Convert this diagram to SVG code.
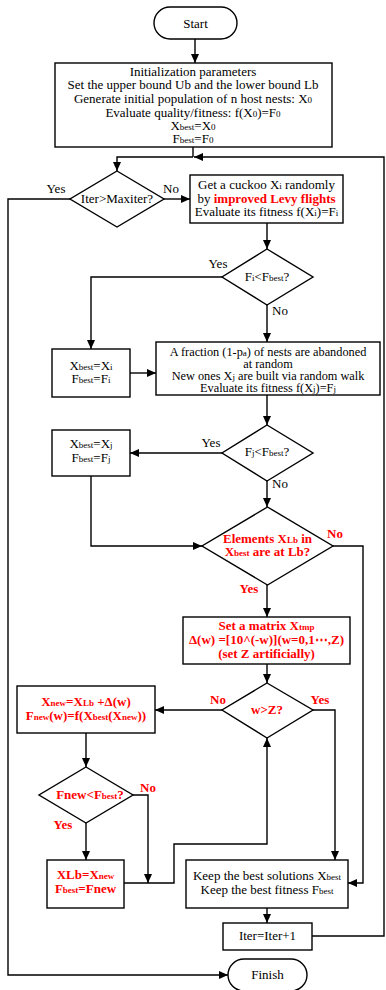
<svg xmlns="http://www.w3.org/2000/svg" width="386" height="990" viewBox="0 0 386 990">
<defs>
<marker id="ah" markerWidth="9" markerHeight="8" refX="9" refY="4" orient="auto" markerUnits="userSpaceOnUse">
<path d="M0,0 L9,4 L0,8 z" fill="#000"/>
</marker>
<style>
.n{fill:#fff;stroke:#000;stroke-width:1.4}
.c{fill:none;stroke:#000;stroke-width:1.4;marker-end:url(#ah)}
.cn{fill:none;stroke:#000;stroke-width:1.4}
.t{font-family:"Liberation Serif","Times New Roman",serif;font-size:13px;fill:#000;text-anchor:middle}
.f{font-size:12.3px}
.r{font-family:"Liberation Serif","Times New Roman",serif;font-size:13px;font-weight:bold;fill:#f00;text-anchor:middle}
.s{font-size:9px}
.l{font-family:"Liberation Serif","Times New Roman",serif;font-size:13px;fill:#000;text-anchor:middle}
.lr{font-family:"Liberation Serif","Times New Roman",serif;font-size:13px;font-weight:bold;fill:#f00;text-anchor:middle}
</style>
</defs>
<rect width="386" height="990" fill="#fff"/>

<g id="connectors">
<path class="c" d="M195,39 V63"/>
<path class="cn" d="M193,147 V157"/>
<path class="c" d="M312,936 H384 V157 H194"/>
<path class="c" d="M193,157 H117 V171"/>
<path class="c" d="M70,199 H8 V975 H228"/>
<path class="c" d="M164,199 H190"/>
<path class="c" d="M267,223 V249"/>
<path class="c" d="M222,277 H91 V349"/>
<path class="c" d="M267,305 V342"/>
<path class="c" d="M130,373 H156"/>
<path class="c" d="M267,395 V425"/>
<path class="c" d="M222,453 H130"/>
<path class="c" d="M267,481 V507"/>
<path class="c" d="M91,476 V546 H202"/>
<path class="c" d="M333,546 H363 V883 H348"/>
<path class="c" d="M267,585 V617"/>
<path class="c" d="M267,664 V683"/>
<path class="c" d="M222,710 H155"/>
<path class="c" d="M313,710 H335 V860"/>
<path class="c" d="M86,733 V767"/>
<path class="c" d="M86,823 V860"/>
<path class="c" d="M133,795 H148 V883"/>
<path class="c" d="M124,883 H174 V844 H267 V738"/>
<path class="c" d="M267,908 V923"/>
<text class="l" x="56" y="193">Yes</text>
<text class="l" x="171" y="193">No</text>
<text class="l" x="218" y="268">Yes</text>
<text class="l" x="280" y="315">No</text>
<text class="l" x="211" y="447">Yes</text>
<text class="l" x="280" y="488">No</text>
<text class="lr" x="335" y="538">No</text>
<text class="lr" x="249" y="593">Yes</text>
<text class="lr" x="218" y="704">No</text>
<text class="lr" x="320" y="704">Yes</text>
<text class="lr" x="148" y="792">No</text>
<text class="lr" x="63" y="829">Yes</text>
</g>

<g id="start">
<rect class="n" x="154" y="7" width="83" height="32" rx="16"/>
<text class="t" x="195.5" y="28">Start</text>
</g>

<g id="init">
<rect class="n" x="55" y="63" width="277" height="84"/>
<text class="t" x="193" y="76">Initialization parameters</text>
<text class="t" x="193" y="89">Set the upper bound Ub and the lower bound Lb</text>
<text class="t" x="193" y="103">Generate initial population of n host nests: X<tspan class="s">0</tspan></text>
<text class="t" x="193" y="117">Evaluate quality/fitness: f(X<tspan class="s">0</tspan>)=F<tspan class="s">0</tspan></text>
<text class="t" x="193" y="130">X<tspan class="s">best</tspan>=X<tspan class="s">0</tspan></text>
<text class="t" x="193" y="143">F<tspan class="s">best</tspan>=F<tspan class="s">0</tspan></text>
</g>

<g id="d-iter">
<polygon class="n" points="117,171 164,199 117,227 70,199"/>
<text class="t" x="117" y="203">Iter&gt;Maxiter?</text>
</g>

<g id="cuckoo">
<rect class="n" x="190" y="175" width="153" height="48"/>
<text class="t" x="266.5" y="189">Get a cuckoo X<tspan class="s">i</tspan> randomly</text>
<text class="t" x="266.5" y="203">by <tspan style="font-weight:bold;fill:#f00">improved Levy flights</tspan></text>
<text class="t" x="266.5" y="216">Evaluate its fitness f(X<tspan class="s">i</tspan>)=F<tspan class="s">i</tspan></text>
</g>

<g id="d-fi">
<polygon class="n" points="267,249 313,277 267,305 222,277"/>
<text class="t" x="267" y="281">F<tspan class="s">i</tspan>&lt;F<tspan class="s">best</tspan>?</text>
</g>

<g id="xi">
<rect class="n" x="52" y="349" width="78" height="48"/>
<text class="t" x="91" y="370">X<tspan class="s">best</tspan>=X<tspan class="s">i</tspan></text>
<text class="t" x="91" y="383">F<tspan class="s">best</tspan>=F<tspan class="s">i</tspan></text>
</g>

<g id="fraction">
<rect class="n" x="156" y="342" width="224" height="53"/>
<text class="t f" x="268" y="355.5">A fraction (1-p<tspan class="s">a</tspan>)  of nests are abandoned</text>
<text class="t f" x="268" y="367.5">at random</text>
<text class="t f" x="268" y="379.5">New ones X<tspan class="s">j</tspan> are built via random walk</text>
<text class="t f" x="268" y="391.5">Evaluate its fitness f(X<tspan class="s">j</tspan>)=F<tspan class="s">j</tspan></text>
</g>

<g id="d-fj">
<polygon class="n" points="267,425 313,453 267,481 222,453"/>
<text class="t" x="267" y="456">F<tspan class="s">j</tspan>&lt;F<tspan class="s">best</tspan>?</text>
</g>

<g id="xj">
<rect class="n" x="52" y="430" width="78" height="46"/>
<text class="t" x="91" y="448">X<tspan class="s">best</tspan>=X<tspan class="s">j</tspan></text>
<text class="t" x="91" y="462">F<tspan class="s">best</tspan>=F<tspan class="s">j</tspan></text>
</g>

<g id="d-lb">
<polygon class="n" points="267.5,507 333,546 267.5,585 202,546"/>
<text class="r" x="267.5" y="543">Elements X<tspan class="s">Lb</tspan> in</text>
<text class="r" x="267.5" y="556">X<tspan class="s">best</tspan> are at Lb?</text>
</g>

<g id="matrix">
<rect class="n" x="183" y="617" width="167" height="47"/>
<text class="r" x="266.5" y="630">Set a matrix X<tspan class="s">tmp</tspan></text>
<text class="r" x="266.5" y="644">Δ(w) =[10^(-w)](w=0,1⋯,Z)</text>
<text class="r" x="266.5" y="658">(set Z artificially)</text>
</g>

<g id="d-wz">
<polygon class="n" points="267,683 313,710 267,738 222,710"/>
<text class="r" x="267" y="714">w&gt;Z?</text>
</g>

<g id="xnew">
<rect class="n" x="17" y="686" width="138" height="47"/>
<text class="r" x="86" y="706">X<tspan class="s">new</tspan>=X<tspan class="s">Lb</tspan> +Δ(w)</text>
<text class="r" x="86" y="720">F<tspan class="s">new</tspan>(w)=f(X<tspan class="s">best</tspan>(X<tspan class="s">new</tspan>))</text>
</g>

<g id="d-fnew">
<polygon class="n" points="86,767 133,795 86,823 39,795"/>
<text class="r" x="90" y="799">Fnew&lt;F<tspan class="s">best</tspan>?</text>
</g>

<g id="xlb">
<rect class="n" x="47" y="860" width="77" height="48"/>
<text class="r" x="85.5" y="879">XLb=X<tspan class="s">new</tspan></text>
<text class="r" x="85.5" y="893">F<tspan class="s">best</tspan>=Fnew</text>
</g>

<g id="keep">
<rect class="n" x="186" y="860" width="162" height="48"/>
<text class="t" x="267" y="880">Keep the best solutions X<tspan class="s">best</tspan></text>
<text class="t" x="267" y="894">Keep the best fitness F<tspan class="s">best</tspan></text>
</g>

<g id="iter">
<rect class="n" x="223" y="923" width="89" height="27"/>
<text class="t" x="267.5" y="940">Iter=Iter+1</text>
</g>

<g id="finish">
<rect class="n" x="228" y="959" width="79" height="32" rx="16"/>
<text class="t" x="267.5" y="979">Finish</text>
</g>
</svg>
